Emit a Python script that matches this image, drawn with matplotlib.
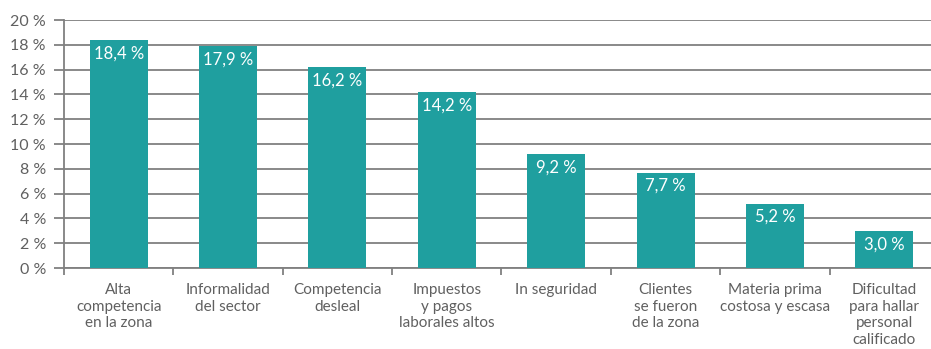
import matplotlib.pyplot as plt
import numpy as np

categories = ["Alta\ncompetencia\nen la zona", "Informalidad\ndel sector", "Competencia\ndesleal",
              "Impuestos\ny pagos\nlaborales altos", "In seguridad", "Clientes\nse fueron\nde la zona",
              "Materia prima\ncostosa y escasa", "Dificultad\npara hallar\npersonal\ncalificado"]
values = [18.4, 17.9, 16.2, 14.2, 9.2, 7.7, 5.2, 3.0]
yticks = [0, 2, 4, 6, 8, 10, 12, 14, 16, 18, 20]

plt.rcParams['font.family'] = ['Lato', 'DejaVu Sans']
teal = '#1f9f9f'
grey = '#808080'
txt = '#606060'

fig = plt.figure(figsize=(9.31, 3.49), dpi=100)
ax = fig.add_axes([64 / 931, 81 / 349, 875 / 931, 248 / 349])

x = np.arange(len(values))
ax.bar(x, values, width=0.53, color=teal, zorder=3)
for xi, v in zip(x, values):
    ax.text(xi, v - 0.45, f"{v:.1f} %".replace('.', ','), ha='center', va='top',
            color='white', fontsize=12, zorder=4)

ax.set_xlim(-0.5, len(values) - 0.5)
ax.set_ylim(0, 20)
ax.set_yticks(yticks)
ax.set_yticklabels([f"{t} %" for t in yticks], color=txt, fontsize=11.5)
ax.yaxis.grid(True, color=grey, linewidth=1.3, zorder=0)
ax.set_axisbelow(True)

ax.set_xticks(np.arange(len(values) + 1) - 0.5)
ax.set_xticklabels([])
ax.set_xticks(x, minor=True)
ax.set_xticklabels(categories, minor=True, color=txt, fontsize=11, linespacing=1.22)
ax.tick_params(axis='x', which='minor', length=0, pad=11)
ax.tick_params(axis='x', which='major', length=5, color=grey, width=1.3)
ax.tick_params(axis='y', length=7, color=grey, width=1.3, pad=6)

for s in ['top', 'right']:
    ax.spines[s].set_visible(False)
for s in ['left', 'bottom']:
    ax.spines[s].set_color(grey)
    ax.spines[s].set_linewidth(1.3)

fig.savefig('out.png', dpi=100)
